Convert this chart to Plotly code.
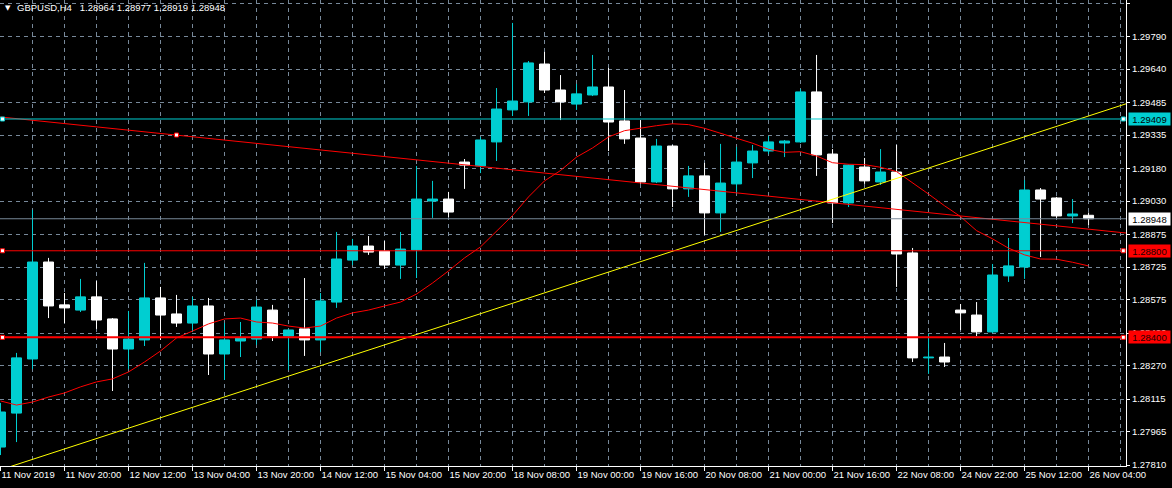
import plotly.graph_objects as go

# ---------------- data ----------------
symbol_title = "GBPUSD,H4\u00a0\u00a0 1.28964 1.28977 1.28919 1.28948"

opens = [1.27893, 1.28050, 1.28300, 1.28748, 1.28550, 1.28526, 1.28587, 1.28485, 1.28346, 1.28388,
         1.28582, 1.28508, 1.28466, 1.28545, 1.28323, 1.28383, 1.28392, 1.28526, 1.28406, 1.28439,
         1.28388, 1.28563, 1.28757, 1.28822, 1.28799, 1.28734, 1.28804, 1.29030, 1.29039, 1.29210,
         1.29192, 1.29303, 1.29451, 1.29488, 1.29663, 1.29543, 1.29478, 1.29520, 1.29557, 1.29400,
         1.29321, 1.29118, 1.29284, 1.29086, 1.29146, 1.28975, 1.29109, 1.29206, 1.29261, 1.29298,
         1.29303, 1.29534, 1.29247, 1.29021, 1.29187, 1.29118, 1.29164, 1.28790, 1.28305, 1.28309,
         1.28526, 1.28503, 1.28425, 1.28684, 1.28725, 1.29081, 1.29044, 1.28961, 1.28964]

highs = [1.28097, 1.28328, 1.28989, 1.28767, 1.28605, 1.28670, 1.28660, 1.28489, 1.28522, 1.28744,
         1.28633, 1.28596, 1.28587, 1.28582, 1.28466, 1.28471, 1.28573, 1.28550, 1.28436, 1.28674,
         1.28605, 1.28887, 1.28855, 1.28868, 1.28845, 1.28887, 1.29192, 1.29123, 1.29072, 1.29224,
         1.29326, 1.29552, 1.29853, 1.29677, 1.29719, 1.29612, 1.29571, 1.29705, 1.29645, 1.29543,
         1.29404, 1.29317, 1.29289, 1.29192, 1.29206, 1.29294, 1.29280, 1.29289, 1.29330, 1.29312,
         1.29548, 1.29705, 1.29270, 1.29198, 1.29229, 1.29270, 1.29289, 1.28813, 1.28416, 1.28374,
         1.28554, 1.28563, 1.28739, 1.28859, 1.29127, 1.29090, 1.29049, 1.29039, 1.28977]

lows = [1.27856, 1.27916, 1.28254, 1.28489, 1.28466, 1.28517, 1.28439, 1.28152, 1.28254, 1.28360,
        1.28388, 1.28448, 1.28425, 1.28226, 1.28203, 1.28309, 1.28365, 1.28383, 1.28249, 1.28314,
        1.28332, 1.28536, 1.28734, 1.28781, 1.28716, 1.28670, 1.28674, 1.28952, 1.28956, 1.29086,
        1.29159, 1.29215, 1.29423, 1.29423, 1.29529, 1.29404, 1.29451, 1.29515, 1.29261, 1.29294,
        1.29109, 1.29113, 1.29002, 1.29049, 1.28873, 1.28887, 1.29067, 1.29136, 1.29247, 1.29233,
        1.29298, 1.29146, 1.28928, 1.29002, 1.29109, 1.29104, 1.28633, 1.28286, 1.28231, 1.28263,
        1.28434, 1.28406, 1.28420, 1.28656, 1.28670, 1.28771, 1.28952, 1.28928, 1.28919]

closes = [1.28055, 1.28305, 1.28748, 1.28545, 1.28536, 1.28587, 1.28480, 1.28346, 1.28392, 1.28582,
          1.28503, 1.28466, 1.28545, 1.28323, 1.28388, 1.28397, 1.28540, 1.28406, 1.28434, 1.28388,
          1.28568, 1.28762, 1.28822, 1.28794, 1.28734, 1.28808, 1.29039, 1.29039, 1.28979, 1.29196,
          1.29312, 1.29455, 1.29492, 1.29668, 1.29543, 1.29488, 1.29525, 1.29557, 1.29395, 1.29317,
          1.29118, 1.29284, 1.29086, 1.29146, 1.28975, 1.29113, 1.29210, 1.29261, 1.29303, 1.29307,
          1.29534, 1.29243, 1.29021, 1.29196, 1.29123, 1.29164, 1.28785, 1.28305, 1.28309, 1.28286,
          1.28513, 1.28425, 1.28688, 1.28730, 1.29081, 1.29039, 1.28961, 1.28970, 1.28948]

ma_values = [1.28106, 1.28087, 1.28101, 1.28124, 1.28143, 1.28171, 1.28194, 1.28208, 1.28240, 1.28286,
             1.28337, 1.28397, 1.28429, 1.28462, 1.28485, 1.28489, 1.28471, 1.28466, 1.28452, 1.28443,
             1.28452, 1.28489, 1.28513, 1.28526, 1.28545, 1.28563, 1.28600, 1.28651, 1.28707, 1.28767,
             1.28818, 1.28891, 1.28963, 1.29049, 1.29123, 1.29171, 1.29233, 1.29275, 1.29326, 1.29355,
             1.29367, 1.29378, 1.29387, 1.29383, 1.29366, 1.29343, 1.29320, 1.29297, 1.29269, 1.29255,
             1.29258, 1.29238, 1.29207, 1.29200, 1.29198, 1.29186, 1.29166, 1.29115, 1.29062, 1.29008,
             1.28958, 1.28893, 1.28855, 1.28812, 1.28781, 1.28762, 1.28761, 1.28747, 1.28730]

time_labels = ["11 Nov 2019", "11 Nov 20:00", "12 Nov 12:00", "13 Nov 04:00", "13 Nov 20:00",
               "14 Nov 12:00", "15 Nov 04:00", "15 Nov 20:00", "18 Nov 08:00", "19 Nov 00:00",
               "19 Nov 16:00", "20 Nov 08:00", "21 Nov 00:00", "21 Nov 16:00", "22 Nov 08:00",
               "24 Nov 22:00", "25 Nov 12:00", "26 Nov 04:00"]

price_ticks = [1.29945, 1.29790, 1.29640, 1.29485, 1.29335, 1.29180, 1.29030, 1.28875,
               1.28725, 1.28575, 1.28420, 1.28270, 1.28115, 1.27965, 1.27810]

# drawing objects
red_trend_bars = [-1, 71]
red_trend_prices = [1.29426, 1.28877]
red_trend_anchor = (11, 1.29335)
yellow_trend_bars = [0, 71]
yellow_trend_prices = [1.27788, 1.29495]
level_cyan = 1.29409
level_bid = 1.28948
level_red_1 = 1.28800
level_red_2 = 1.28400

# ---------------- styling ----------------
CYAN = "#00CED1"
GRID = "#778899"
FONT = "Liberation Sans"
FS = 9.5

bars = list(range(len(opens)))
inc = [i for i in bars if closes[i] > opens[i]]
dec = [i for i in bars if closes[i] <= opens[i]]

fig = go.Figure()


def wicks(idx):
    xs, ys = [], []
    for i in idx:
        xs += [i, i, None]
        ys += [lows[i], highs[i], None]
    return xs, ys


for idx, col in ((inc, CYAN), (dec, "white")):
    wx, wy = wicks(idx)
    fig.add_trace(go.Scatter(x=wx, y=wy, mode="lines", line=dict(color=col, width=1),
                             hoverinfo="skip", showlegend=False))
    fig.add_trace(go.Bar(x=idx,
                         base=[min(opens[i], closes[i]) for i in idx],
                         y=[abs(closes[i] - opens[i]) for i in idx],
                         width=0.625,
                         marker=dict(color=col, line=dict(color=col, width=1)),
                         hoverinfo="skip", showlegend=False))

# moving average
fig.add_trace(go.Scatter(x=bars, y=ma_values, mode="lines", line=dict(color="red", width=1),
                         hoverinfo="skip", showlegend=False))
# trend lines
fig.add_trace(go.Scatter(x=red_trend_bars, y=red_trend_prices, mode="lines",
                         line=dict(color="red", width=1), hoverinfo="skip", showlegend=False))
fig.add_trace(go.Scatter(x=yellow_trend_bars, y=yellow_trend_prices, mode="lines",
                         line=dict(color="yellow", width=1), hoverinfo="skip", showlegend=False))

shapes = []
for lvl, col, w in ((level_bid, GRID, 1), (level_cyan, CYAN, 1),
                    (level_red_1, "red", 1), (level_red_2, "red", 2)):
    shapes.append(dict(type="line", xref="paper", x0=0, x1=1, yref="y", y0=lvl, y1=lvl,
                       line=dict(color=col, width=w), layer="above"))


def square(xref, xa, ya, col):
    return dict(type="rect", xref=xref, yref="y", xsizemode="pixel", ysizemode="pixel",
                xanchor=xa, yanchor=ya, x0=-2, x1=2, y0=-2, y1=2,
                fillcolor="white", line=dict(color=col, width=1), layer="above")


PW = 1126.0
for lvl, col in ((level_cyan, CYAN), (level_red_1, "red"), (level_red_2, "red")):
    shapes.append(square("paper", 2.5 / PW, lvl, col))
    shapes.append(square("paper", 1123.3 / PW, lvl, col))
shapes.append(square("x", red_trend_anchor[0], red_trend_anchor[1], "red"))

annotations = [
    dict(xref="paper", yref="paper", x=3 / PW, y=1, xanchor="left", yanchor="top",
         text="▼", showarrow=False, font=dict(color="white", size=7, family="DejaVu Sans"),
         yshift=-2),
    dict(xref="paper", yref="paper", x=15 / PW, y=1, xanchor="left", yanchor="top",
         text=symbol_title, showarrow=False, font=dict(color="white", size=FS, family=FONT),
         yshift=0),
]
for lvl, bg, fg in ((level_cyan, CYAN, "black"), (level_bid, "white", "black"),
                    (level_red_1, "red", "#200000"), (level_red_2, "red", "#200000")):
    annotations.append(dict(xref="paper", yref="y", x=1, y=lvl, xanchor="left", yanchor="middle",
                            xshift=2, text=f"{lvl:.5f}", showarrow=False, bgcolor=bg,
                            font=dict(color=fg, size=FS, family=FONT),
                            width=39, height=10, borderpad=1, align="center"))

fig.update_layout(
    width=1172, height=488,
    margin=dict(l=0, r=46, t=0, b=22, autoexpand=False),
    paper_bgcolor="black", plot_bgcolor="black",
    barmode="overlay", showlegend=False,
    shapes=shapes, annotations=annotations,
    xaxis=dict(range=[-0.03125, 70.34], tickmode="array",
               tickvals=list(range(0, len(opens), 4)), ticktext=time_labels,
               ticks="outside", ticklen=4, tickcolor="white", tickwidth=1,
               ticklabelposition="outside right", tickangle=0,
               showgrid=True, gridcolor=GRID, griddash="4px,4px", gridwidth=1,
               minor=dict(tickmode="linear", tick0=0, dtick=2, showgrid=True,
                          gridcolor=GRID, griddash="4px,4px", gridwidth=1, ticks=""),
               showline=True, linecolor="white", linewidth=1, zeroline=False,
               tickfont=dict(color="white", size=FS, family=FONT), fixedrange=True),
    yaxis=dict(range=[1.278054, 1.299589], side="right", tickmode="array",
               tickvals=price_ticks, ticktext=[f"{v:.5f}" for v in price_ticks],
               ticks="outside", ticklen=3, tickcolor="white", tickwidth=1,
               showgrid=True, gridcolor=GRID, griddash="4px,4px", gridwidth=1,
               showline=True, linecolor="white", linewidth=1, zeroline=False,
               tickfont=dict(color="white", size=FS, family=FONT), fixedrange=True),
)

fig.write_html("out.html", config={"displayModeBar": False},
               post_script="document.body.style.margin='0';document.body.style.overflow='hidden';")
